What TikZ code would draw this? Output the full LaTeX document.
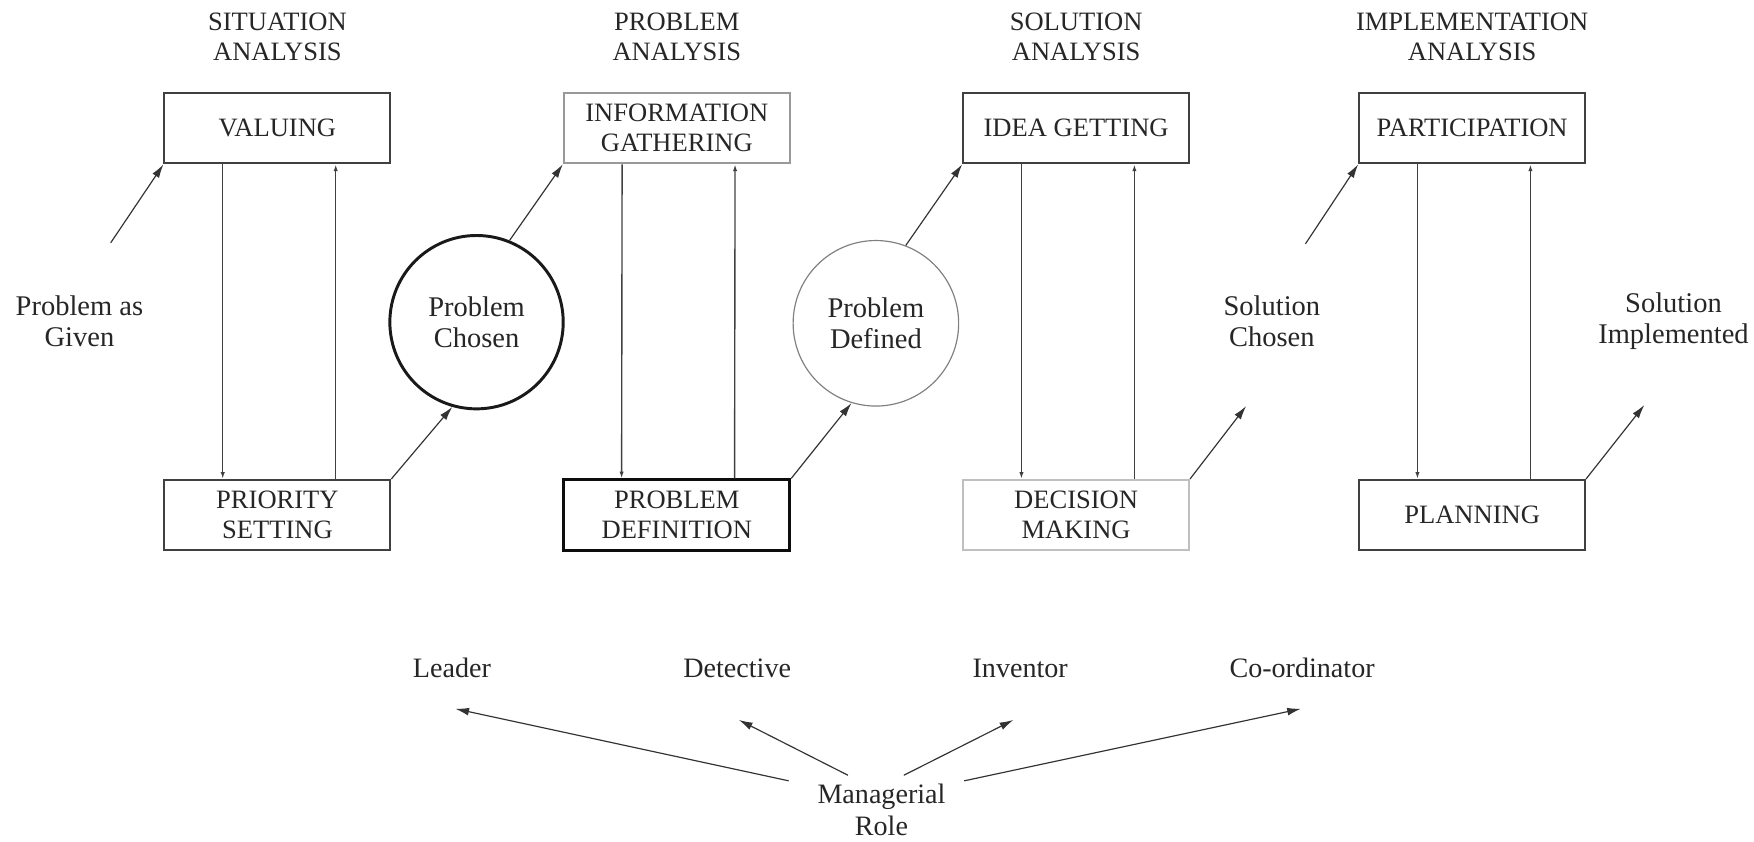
\documentclass[tikz,border=0pt]{standalone}
\usepackage{fontspec}
\setmainfont{Liberation Serif}
\usetikzlibrary{arrows.meta}

\tikzset{
    stage/.style={draw=black!75, line width=1pt, minimum width=4.04cm, minimum height=1.26cm,
        inner sep=0pt, align=center, text=black!85, font=\fontsize{13.5}{15.3}\selectfont},
    phase/.style={align=center, text=black!85, font=\fontsize{13.5}{15.3}\selectfont},
    outcome/.style={align=center, text=black!85, font=\fontsize{14.5}{15.5}\selectfont},
    role/.style={inner sep=0pt, text=black!85, font=\fontsize{14.3}{16}\selectfont},
    pass/.style={draw=black!80, line width=0.6pt, -{Latex[length=7pt,width=4pt]}},
    feedline/.style={draw=black!75, line width=0.7pt, -{Latex[length=3.5pt,width=2.2pt]}},
}

\begin{document}
\begin{tikzpicture}[x=0.02cm, y=-0.02cm]
    \useasboundingbox (0,0) rectangle (1568,752);

    % column headings
    \node[phase] (hsit) at (248,33) {SITUATION\\ANALYSIS};
    \node[phase] (hprob) at (605,33) {PROBLEM\\ANALYSIS};
    \node[phase] (hsol) at (962,33) {SOLUTION\\ANALYSIS};
    \node[phase] (himp) at (1316,33) {IMPLEMENTATION\\ANALYSIS};

    % the eight activities
    \node[stage] (val) at (248,114.5) {VALUING};
    \node[stage] (pri) at (248,460.5) {PRIORITY\\SETTING};
    \node[stage, draw=black!40] (inf) at (605,114.5) {INFORMATION\\GATHERING};
    \node[stage, draw=black!95, line width=1.5pt] (def) at (605,460.5) {PROBLEM\\DEFINITION};
    \node[stage] (idea) at (962,114.5) {IDEA GETTING};
    \node[stage, draw=black!25] (dec) at (962,460.5) {DECISION\\MAKING};
    \node[stage] (par) at (1316,114.5) {PARTICIPATION};
    \node[stage] (pla) at (1316,460.5) {PLANNING};

    \foreach \up/\down in {val/pri, inf/def, idea/dec, par/pla} {
        \draw[feedline] ([xshift=1.06cm]\up.south west) -- ([xshift=1.06cm]\down.north west);
        \draw[feedline] ([xshift=3.08cm]\down.north west) -- ([xshift=3.08cm]\up.south west);
    }

    % outcomes between the columns
    \node[outcome] (given) at (71,287) {Problem as\\Given};
    \node[outcome, circle, draw=black!90, line width=1.5pt, minimum size=3.1cm, inner sep=0pt] (chosen) at (426,288) {Problem\\Chosen};
    \node[outcome, circle, draw=black!50, line width=0.6pt, minimum size=2.96cm, inner sep=0pt] (defined) at (783,289) {Problem\\Defined};
    \node[outcome] (solch) at (1137,287) {Solution\\Chosen};
    \node[outcome] (solimp) at (1496,287) {Solution\\Implemented};

    \coordinate (giventail) at (99,217);
    \coordinate (solchtip) at (1114,363);
    \coordinate (solchtail) at (1167,218);
    \coordinate (solimptip) at (1470,362);

    \draw[pass] (giventail) -- (val.south west);
    \draw[pass] (pri.north east) -- (chosen.-106);
    \draw[pass] (chosen.68) -- (inf.south west);
    \draw[pass] (def.north east) -- (defined.-107);
    \draw[pass] (defined.69) -- (idea.south west);
    \draw[pass] (dec.north east) -- (solchtip);
    \draw[pass] (solchtail) -- (par.south west);
    \draw[pass] (pla.north east) -- (solimptip);

    % managerial roles
    \node[role, anchor=base] (lead) at (404,606) {Leader};
    \node[role, anchor=base] (det) at (659,606) {Detective};
    \node[role, anchor=base] (inv) at (912,606) {Inventor};
    \node[role, anchor=base] (coo) at (1164,606) {Co-ordinator};
    \node[role, align=center] (mgr) at (788,724) {Managerial\\Role};

    \draw[pass] ([xshift=-1.66cm,yshift=0.52cm]mgr.center) -- ([xshift=0.06cm,yshift=-0.54cm]lead.south);
    \draw[pass] ([xshift=-0.6cm,yshift=0.62cm]mgr.center) -- ([xshift=0.03cm,yshift=-0.74cm]det.south);
    \draw[pass] ([xshift=0.4cm,yshift=0.62cm]mgr.center) -- ([xshift=-0.12cm,yshift=-0.74cm]inv.south);
    \draw[pass] ([xshift=1.48cm,yshift=0.52cm]mgr.center) -- ([xshift=-0.02cm,yshift=-0.54cm]coo.south);
\end{tikzpicture}
\end{document}
